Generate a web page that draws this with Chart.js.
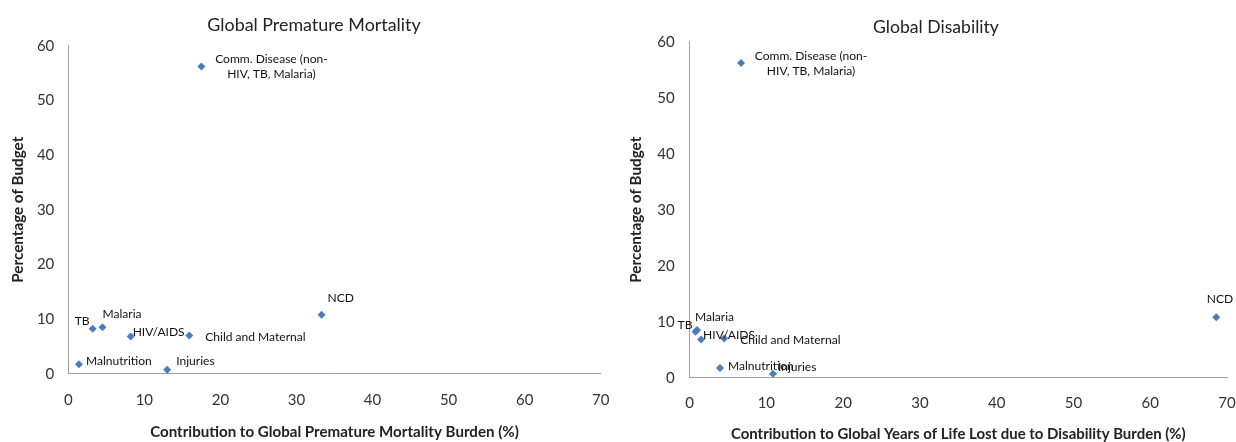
<!DOCTYPE html>
<html>
<head>
<meta charset="utf-8">
<script src="https://cdn.jsdelivr.net/npm/chart.js@4.4.0/dist/chart.umd.min.js"></script>
<style>
html,body{margin:0;padding:0;background:#fff;}
.w{position:absolute;top:0;width:618px;height:442px;}
</style>
</head>
<body>
<div class="w" style="left:0"><canvas id="c1" width="618" height="442"></canvas></div>
<div class="w" style="left:618px"><canvas id="c2" width="618" height="442"></canvas></div>
<script>
// ---- data ----
const categories = ["Comm. Disease (non-\nHIV, TB, Malaria)", "NCD", "TB", "Malaria", "HIV/AIDS", "Child and Maternal", "Malnutrition", "Injuries"];
const budgetPct = [56.2, 10.8, 8.2, 8.5, 6.8, 7.0, 1.75, 0.7];
const mortalityBurden = [17.5, 33.3, 3.2, 4.5, 8.2, 15.9, 1.4, 13.0];
const disabilityBurden = [6.7, 68.6, 0.77, 0.96, 1.5, 4.5, 3.96, 10.86];
const xTickValues = [0, 10, 20, 30, 40, 50, 60, 70];
const yTickValues = [0, 10, 20, 30, 40, 50, 60];
const chartTitles = ["Global Premature Mortality", "Global Disability"];
const xAxisTitles = ["Contribution to Global Premature Mortality Burden (%)", "Contribution to Global Years of Life Lost due to Disability Burden (%)"];
const yAxisTitle = "Percentage of Budget";

// ---- label placement (style) ----
const labelOffsetsLeft = [
  {align:'center', dx:70, dy:-7}, {align:'left', dx:6, dy:-17}, {align:'right', dx:-3, dy:-8},
  {align:'left', dx:0, dy:-13}, {align:'left', dx:2, dy:-4}, {align:'left', dx:16, dy:2},
  {align:'left', dx:7, dy:-3}, {align:'left', dx:9, dy:-9}
];
const labelOffsetsRight = [
  {align:'center', dx:70, dy:-7}, {align:'right', dx:17, dy:-18}, {align:'right', dx:-3, dy:-7},
  {align:'left', dx:-2, dy:-13}, {align:'left', dx:2, dy:-5}, {align:'left', dx:16, dy:2},
  {align:'left', dx:8, dy:-2}, {align:'left', dx:5, dy:-7}
];

const FAMILY = "Lato, 'Open Sans', sans-serif";
Chart.defaults.font.family = FAMILY;

// font size so that a text takes a given width
const measureCtx = document.createElement('canvas').getContext('2d');
function fitSize(text, weight, targetWidth) {
  measureCtx.font = weight + ' 100px ' + FAMILY;
  return 100 * targetWidth / measureCtx.measureText(text).width;
}
const labelSize = fitSize("Child and Maternal", 'normal', 100.5);
const yTitleSize = fitSize(yAxisTitle, 'bold', 146);
const xTitleSizes = [fitSize(xAxisTitles[0], 'bold', 369), fitSize(xAxisTitles[1], 'bold', 455)];
const titleSizes = [fitSize(chartTitles[0], 'normal', 213.5), fitSize(chartTitles[1], 'normal', 126)];

const pointLabels = {
  id: 'pointLabels',
  afterDatasetsDraw(chart, args, opts) {
    const ctx = chart.ctx;
    const meta = chart.getDatasetMeta(0);
    ctx.save();
    ctx.font = opts.font;
    ctx.fillStyle = opts.color;
    ctx.textBaseline = 'middle';
    meta.data.forEach((pt, i) => {
      const o = opts.offsets[i];
      ctx.textAlign = o.align;
      categories[i].split('\n').forEach((ln, k) => {
        ctx.fillText(ln, pt.x + o.dx, pt.y + o.dy + k * opts.lineHeight);
      });
    });
    ctx.restore();
  }
};

const topTitle = {
  id: 'topTitle',
  afterDraw(chart, args, opts) {
    const ctx = chart.ctx;
    ctx.save();
    ctx.font = opts.font;
    ctx.fillStyle = opts.color;
    ctx.textAlign = 'center';
    ctx.textBaseline = 'alphabetic';
    ctx.fillText(opts.text, opts.x, opts.y);
    ctx.restore();
  }
};

function makeChart(id, xs, idx, geom) {
  const pts = xs.map((x, i) => ({x: x, y: budgetPct[i]}));
  return new Chart(document.getElementById(id), {
    type: 'scatter',
    data: { datasets: [{
      data: pts,
      pointStyle: 'rectRot',
      pointRadius: 4,
      pointBackgroundColor: '#4a7ebb',
      pointBorderColor: '#4a7ebb',
      pointBorderWidth: 0
    }]},
    plugins: [pointLabels, topTitle],
    options: {
      responsive: false,
      devicePixelRatio: 1,
      animation: false,
      layout: { padding: { top: geom.top, right: geom.right, left: 0, bottom: 0 } },
      plugins: {
        legend: { display: false },
        tooltip: { enabled: false },
        pointLabels: { offsets: geom.offsets, font: labelSize.toFixed(2) + 'px ' + FAMILY, color: '#111', lineHeight: 15 },
        topTitle: { text: chartTitles[idx], x: geom.titleX, y: geom.titleY, font: titleSizes[idx].toFixed(2) + 'px ' + FAMILY, color: '#222' }
      },
      scales: {
        x: {
          type: 'linear',
          min: xTickValues[0], max: xTickValues[xTickValues.length - 1],
          ticks: { stepSize: xTickValues[1] - xTickValues[0], color: '#333', font: { size: 15 }, padding: 0 },
          grid: { display: false, drawTicks: true, tickLength: geom.xTickLen, tickColor: 'rgba(0,0,0,0)' },
          border: { display: true, color: '#a0a0a0', width: 1 },
          title: { display: true, text: xAxisTitles[idx], color: '#222', font: { size: xTitleSizes[idx], weight: 'bold', lineHeight: 1 }, padding: { top: 0, bottom: geom.xTitlePad } },
          afterFit(s) { s.height = geom.xH; }
        },
        y: {
          type: 'linear',
          min: yTickValues[0], max: yTickValues[yTickValues.length - 1],
          ticks: { stepSize: yTickValues[1] - yTickValues[0], color: '#333', font: { size: 15 }, padding: geom.yTickPad },
          grid: { display: false, drawTicks: false },
          border: { display: true, color: '#a0a0a0', width: 1 },
          title: { display: true, text: yAxisTitle, color: '#222', font: { size: yTitleSize, weight: 'bold', lineHeight: 1 }, padding: { top: geom.yTitlePad, bottom: 0 } },
          afterFit(s) { s.width = geom.yW; }
        }
      }
    }
  });
}

makeChart('c1', mortalityBurden, 0, {
  top: 45.7, right: 17.3, xH: 68.3, yW: 68.3, xTickLen: 17.3, yTickPad: 14,
  xTitlePad: 2, yTitlePad: 10, titleX: 314, titleY: 30.5, offsets: labelOffsetsLeft
});
makeChart('c2', disabilityBurden, 1, {
  top: 41.7, right: 9, xH: 64.3, yW: 71.6, xTickLen: 16, yTickPad: 15,
  xTitlePad: 0, yTitlePad: 10, titleX: 318, titleY: 32.7, offsets: labelOffsetsRight
});
</script>
</body>
</html>
